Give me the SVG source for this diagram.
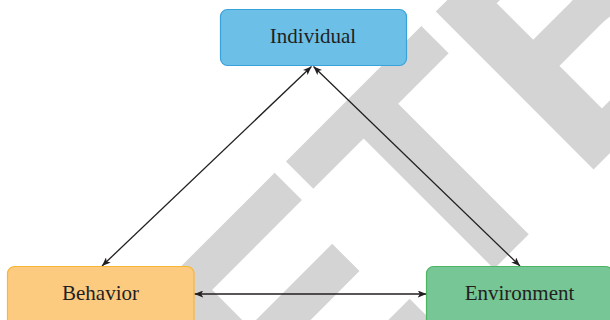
<svg xmlns="http://www.w3.org/2000/svg" width="610" height="320" viewBox="0 0 610 320">
<defs>
<style>
.wm{font-family:"Liberation Sans",Arial,sans-serif;font-weight:bold;font-size:320px;fill:#d4d4d4;stroke:#d4d4d4;stroke-width:3;stroke-linejoin:miter}
.box{stroke-width:1.2}
.lbl{font-family:"Liberation Serif","Times New Roman",serif;font-size:21px;fill:#231f20;text-anchor:middle}
.edge{stroke:#231f20;stroke-width:1.3;fill:none;marker-start:url(#arr);marker-end:url(#arr)}
</style>
<marker id="arr" viewBox="0 0 10 8" refX="10" refY="4" markerWidth="9" markerHeight="7" markerUnits="userSpaceOnUse" orient="auto-start-reverse">
<path d="M0,0 L10,4 L0,8 L2.5,4 z" fill="#231f20"/>
</marker>
</defs>
<rect width="610" height="320" fill="#ffffff"/>
<g id="watermark" transform="rotate(-45)">
<text class="wm" x="-124" y="538">E</text>
<text class="wm" x="86" y="538">T</text>
<text class="wm" x="280" y="538">B</text>
</g>
<g id="connectors">
<line class="edge" x1="311.5" y1="66.5" x2="102" y2="266"/>
<line class="edge" x1="313.5" y1="66.5" x2="520" y2="266"/>
<line class="edge" x1="194.5" y1="294" x2="426.5" y2="294"/>
</g>
<g id="individual">
<rect class="box" x="220.5" y="9.5" width="186" height="56" rx="7" fill="#6cc0e8" stroke="#3aa2da"/>
<text class="lbl" x="313" y="43">Individual</text>
</g>
<g id="behavior">
<rect class="box" x="7.5" y="266.5" width="186.5" height="60" rx="7" fill="#fdcb80" stroke="#f7b732"/>
<text class="lbl" x="100.5" y="299.5">Behavior</text>
</g>
<g id="environment">
<rect class="box" x="426.5" y="266.5" width="186" height="60" rx="7" fill="#76c696" stroke="#4cb562"/>
<text class="lbl" x="519.5" y="299.5">Environment</text>
</g>
</svg>
